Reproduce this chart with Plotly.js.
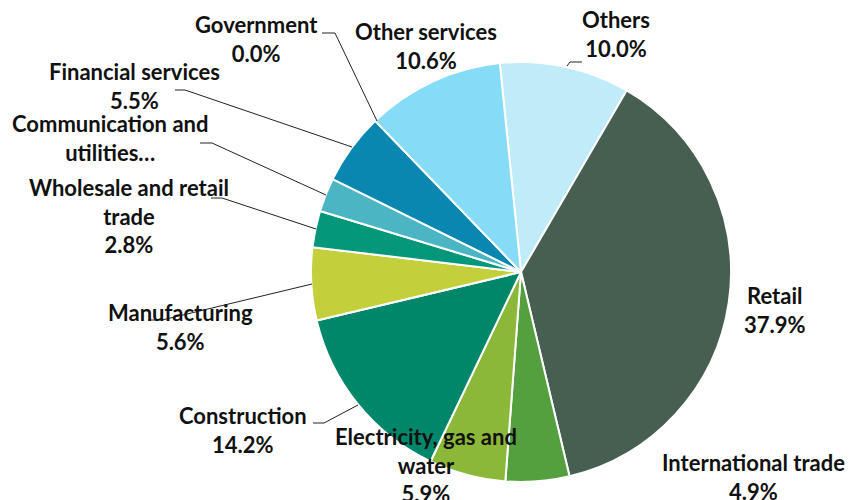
<!DOCTYPE html>
<html><head><meta charset="utf-8">
<script src="https://cdn.plot.ly/plotly-3.0.1.min.js"></script>
<style>html,body{margin:0;padding:0;background:#fff}#chart{width:854px;height:500px}</style>
</head><body><div id="chart"></div>
<script>
// Data
const categories = ["Others","Retail","International trade","Electricity, gas and water","Construction","Manufacturing","Wholesale and retail trade","Communication and utilities…","Financial services","Government","Other services"];
const values = [10.0, 37.9, 4.9, 5.9, 14.2, 5.6, 2.8, 2.6, 5.5, 0.0, 10.6];
const colors = ["#c0ecfa","#475f51","#54a03f","#8cb83a","#00876a","#c3cf3b","#05977a","#4bb5c4","#0a87b0","#0a87b0","#86dcf7"];
// Label text lines (display labels as shown in the chart)
const labelLines = [
  ["Others","10.0%"],
  ["Retail","37.9%"],
  ["International trade","4.9%"],
  ["Electricity, gas and","water","5.9%"],
  ["Construction","14.2%"],
  ["Manufacturing","5.6%"],
  ["Wholesale and retail","trade","2.8%"],
  ["Communication and","utilities…"],
  ["Financial services","5.5%"],
  ["Government","0.0%"],
  ["Other services","10.6%"]
];

// Layout positions (pixels)
const W = 854, H = 500;
const px = x => x / W, py = y => 1 - y / H;
const labelPos = [
  [616, 34], [775, 310], [753, 477], [426, 465], [243, 430], [180, 327],
  [129, 216], [110, 138], [134, 86], [256, 39], [426, 46]
];
const leaders = [
  [[567,66],[570,62],[582,62]],
  null, null, null,
  [[313,423],[324,423],[358,405]],
  [[148,320],[162,320],[312,284]],
  [[211,198],[222,198],[316,229]],
  [[200,143],[212,143],[326,195]],
  [[175,90],[185,90],[352,147]],
  [[322,33],[335,33],[377,121]],
  null
];

const font = {family: "Lato, 'Noto Sans', sans-serif", size: 22, color: "#111"};
const annotations = labelLines.map((lines, i) => ({
  x: px(labelPos[i][0]), y: py(labelPos[i][1]), xref: "paper", yref: "paper",
  text: lines.map(l => "<b>" + l + "</b>").join("<br>"),
  showarrow: false, xanchor: "center", yanchor: "middle", align: "center", font: font
}));
const shapes = leaders.filter(l => l).map(pts => ({
  type: "path", xref: "paper", yref: "paper",
  path: pts.map((p, j) => (j ? "L" : "M") + px(p[0]) + "," + py(p[1])).join(" "),
  line: {color: "#222", width: 1}
}));

const cx = 521, cy = 272, r = 210;
const trace = {
  type: "pie", labels: categories, values: values, sort: false,
  direction: "clockwise", rotation: -5.8,
  marker: {colors: colors, line: {color: "#ffffff", width: 2}},
  textinfo: "none", hoverinfo: "label+percent",
  domain: {x: [px(cx - r), px(cx + r)], y: [py(cy + r), py(cy - r)]}
};
Plotly.newPlot("chart", [trace], {
  width: W, height: H, margin: {l: 0, r: 0, t: 0, b: 0},
  showlegend: false, paper_bgcolor: "#fff",
  annotations: annotations, shapes: shapes
}, {displayModeBar: false, staticPlot: true});
</script></body></html>
